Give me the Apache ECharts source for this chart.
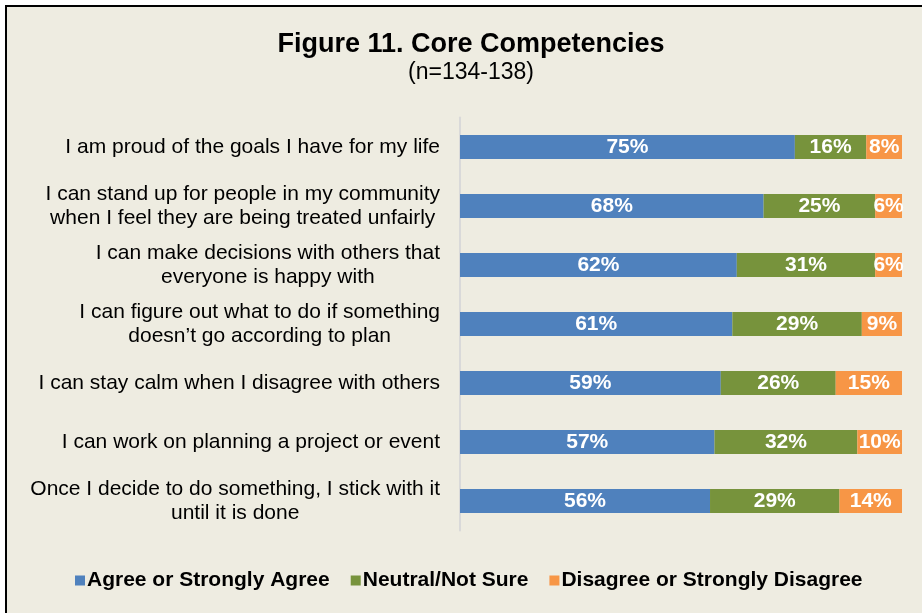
<!DOCTYPE html>
<html>
<head>
<meta charset="utf-8">
<script src="https://cdn.jsdelivr.net/npm/echarts@6/dist/echarts.min.js"></script>
<style>html,body{margin:0;padding:0;background:#fff}#c{width:922px;height:613px}</style>
</head>
<body>
<div id="c"></div>
<script>
const categories = [
  "I am proud of the goals I have for my life",
  "I can stand up for people in my community\nwhen I feel they are being treated unfairly",
  "I can make decisions with others that\neveryone is happy with",
  "I can figure out what to do if something\ndoesn\u2019t go according to plan",
  "I can stay calm when I disagree with others",
  "I can work on planning a project or event",
  "Once I decide to do something, I stick with it\nuntil it is done"
];
const agree = [75, 68, 62, 61, 59, 57, 56];
const neutral = [16, 25, 31, 29, 26, 32, 29];
const disagree = [8, 6, 6, 9, 15, 10, 14];
const seriesNames = ["Agree or Strongly Agree", "Neutral/Not Sure", "Disagree or Strongly Disagree"];
const colors = ["#4F81BD", "#77933C", "#F79646"];

const FONT = '"Liberation Sans", Arial, sans-serif';
const chart = echarts.init(document.getElementById('c'));
const totals = agree.map((v, i) => v + neutral[i] + disagree[i]);
const toPct = arr => arr.map((v, i) => ({ value: v / totals[i] * 100, raw: v }));
const lbl = {
  show: true, position: 'inside', color: '#fff', fontWeight: 'bold',
  fontSize: 21, fontFamily: FONT, formatter: p => p.data.raw + '%'
};
const mk = (name, data, color) => ({
  name, type: 'bar', stack: 'total', data: toPct(data), barWidth: 24,
  itemStyle: { color }, label: lbl, emphasis: { disabled: true }
});
chart.setOption({
  backgroundColor: '#fff',
  animation: false,
  graphic: [{
    type: 'rect', z: -10, silent: true,
    shape: { x: 6, y: 6, width: 940, height: 640 },
    style: { fill: '#EEECE1', stroke: '#000', lineWidth: 2 }
  }],
  title: {
    text: 'Figure 11. Core Competencies',
    subtext: '(n=134-138)',
    left: 466, top: 26, textAlign: 'center', itemGap: 3,
    textStyle: { fontFamily: FONT, fontSize: 27, fontWeight: 'bold', color: '#000' },
    subtextStyle: { fontFamily: FONT, fontSize: 23, color: '#000' }
  },
  legend: {
    data: seriesNames, left: 70, top: 565, icon: 'rect',
    itemWidth: 10, itemHeight: 10, itemGap: 21,
    textStyle: { fontFamily: FONT, fontSize: 21, fontWeight: 'bold', color: '#000', padding: [0, 0, 0, -3] }
  },
  grid: { left: 460, right: 20, top: 117.5, bottom: 82.5, containLabel: false },
  xAxis: {
    type: 'value', min: 0, max: 100, show: false
  },
  yAxis: {
    type: 'category', data: categories, inverse: true,
    axisLine: { lineStyle: { color: '#D9D9D9', width: 2 } },
    axisTick: { show: false },
    axisLabel: {
      margin: 20, color: '#000', fontFamily: FONT, fontSize: 21,
      formatter: v => v.split('\n').map(s => '{c|' + s + '}').join('\n'),
      rich: { c: { align: 'center', fontFamily: FONT, fontSize: 21, color: '#000', lineHeight: 24 } }
    }
  },
  series: [
    mk(seriesNames[0], agree, colors[0]),
    mk(seriesNames[1], neutral, colors[1]),
    mk(seriesNames[2], disagree, colors[2])
  ]
});
</script>
</body>
</html>
